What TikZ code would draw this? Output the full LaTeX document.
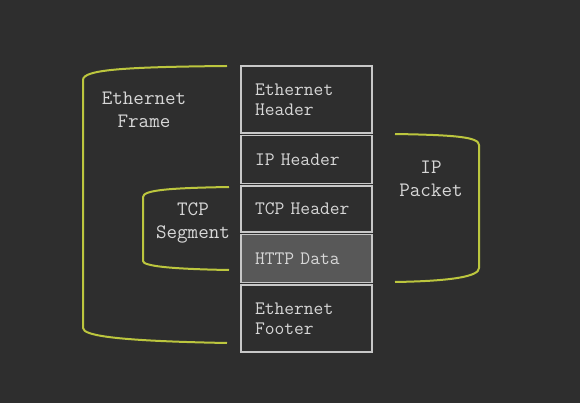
\documentclass[tikz,border=0pt]{standalone}
\usepackage{fontspec}
\usetikzlibrary{positioning}

\definecolor{bgcol}{RGB}{46,46,46}
\definecolor{boxline}{RGB}{200,200,200}
\definecolor{boxtext}{RGB}{215,215,215}
\definecolor{httpfill}{RGB}{88,88,88}
\definecolor{bracketcol}{RGB}{188,198,62}

\begin{document}
\begin{tikzpicture}[x=1pt, y=-1pt, node distance=2.5pt,
  layer/.style={draw=boxline, line width=1.4pt, outer sep=0pt, fill=bgcol, text=boxtext, text width=103pt, inner xsep=14pt, inner ysep=0pt, align=left, font=\ttfamily\fontsize{19}{20}\selectfont},
  tag/.style={text=boxtext, align=center, font=\ttfamily\fontsize{20.5}{23}\selectfont},
  bracket/.style={draw=bracketcol, line width=2pt}]

\fill[bgcol] (0,0) rectangle (580,403);
\useasboundingbox (0,0) rectangle (580,403);

% stacked layers
\node[layer, minimum height=67pt] (ethhdr) at (306.5,99.5) {Ethernet\\Header};
\node[layer, minimum height=48pt, below=of ethhdr] (iphdr) {IP Header};
\node[layer, minimum height=46pt, below=of iphdr] (tcphdr) {TCP Header};
\node[layer, minimum height=48pt, below=of tcphdr, fill=httpfill] (httpdata) {HTTP Data};
\node[layer, minimum height=67pt, below=of httpdata] (ethftr) {Ethernet\\Footer};

% brackets
\draw[bracket] (227,66) .. controls (120,67) and (83,70) .. (83,80) -- (83,328) .. controls (83,336) and (120,341) .. (227,343);
\draw[bracket] (229,187) .. controls (170,188) and (143,190) .. (143,197) -- (143,261) .. controls (143,266) and (170,269) .. (229,270);
\draw[bracket] (395,134) .. controls (455,135) and (479,137) .. (479,145) -- (479,268) .. controls (479,276) and (455,281) .. (395,282);

% labels
\node[tag] (framelbl) at (144,110) {Ethernet\\Frame};
\node[tag] (segmentlbl) at (193,222.5) {TCP\\Segment};
\node[tag] (packetlbl) at (431,178.5) {IP\\Packet};

\end{tikzpicture}
\end{document}
